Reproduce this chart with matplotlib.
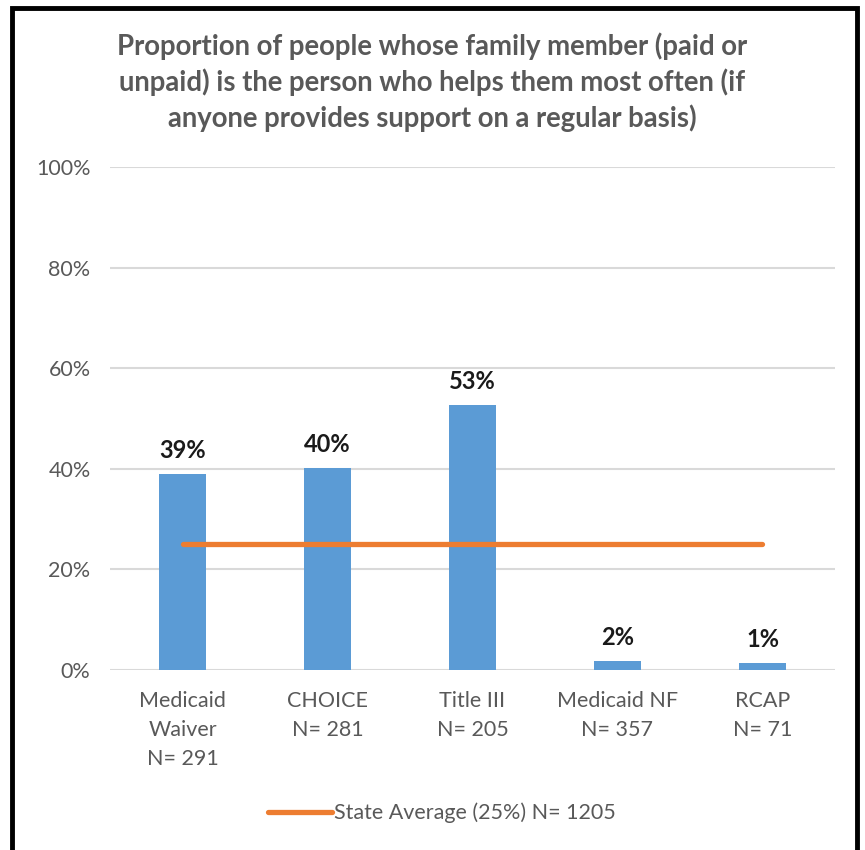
import matplotlib.pyplot as plt
from matplotlib.patches import Rectangle

plt.rcParams['font.family'] = ['Lato', 'DejaVu Sans']

categories = ['Medicaid\nWaiver\nN= 291', 'CHOICE\nN= 281', 'Title III\nN= 205',
              'Medicaid NF\nN= 357', 'RCAP\nN= 71']
values = [39.0, 40.2, 52.7, 1.8, 1.4]
labels = ['39%', '40%', '53%', '2%', '1%']
state_avg = [25, 25, 25, 25, 25]
yticks = [0, 20, 40, 60, 80, 100]

gray = '#595959'
blue = '#5b9bd5'
orange = '#ed7d31'

fig = plt.figure(figsize=(8.65, 8.5), dpi=100)
ax = fig.add_axes([110 / 865, 1 - 670 / 850, 725 / 865, 503 / 850])

x = list(range(len(categories)))
ax.bar(x, values, width=0.33, color=blue, zorder=2)
ax.plot(x, state_avg, color=orange, lw=3.8, solid_capstyle='round', zorder=3,
        label='State Average (25%) N= 1205')

for i, v in enumerate(values):
    ax.text(i, v + 2.4, labels[i], ha='center', va='bottom', fontsize=17,
            fontweight='bold', color='#1a1a1a')

ax.set_xlim(-0.5, 4.5)
ax.set_ylim(0, 100)
ax.set_yticks(yticks)
ax.set_yticklabels([f'{t}%' for t in yticks])
ax.set_xticks(x)
ax.set_xticklabels(categories, linespacing=1.58)
ax.tick_params(axis='both', length=0, labelsize=15.5, labelcolor=gray)
ax.tick_params(axis='x', pad=15)
ax.tick_params(axis='y', pad=14)
ax.grid(axis='y', color='#d9d9d9', lw=1.5, zorder=0)
for s in ax.spines.values():
    s.set_visible(False)

fig.text(0.5, 1 - 82 / 850,
         'Proportion of people whose family member (paid or\n'
         'unpaid) is the person who helps them most often (if\n'
         'anyone provides support on a regular basis)',
         ha='center', va='center', fontsize=19.8, fontweight='bold', color=gray,
         linespacing=1.37)

leg = fig.legend(loc='center', bbox_to_anchor=(442 / 865, 1 - 813 / 850), frameon=False,
                 fontsize=15.5, handlelength=3.0, handletextpad=0.1)
for t in leg.get_texts():
    t.set_color(gray)

fig.patches.append(Rectangle((12 / 865, -0.05), 845 / 865, 1.05 - 8 / 850,
                             transform=fig.transFigure, fill=False, ec='black', lw=3.5))

fig.savefig('out.png', dpi=100)
